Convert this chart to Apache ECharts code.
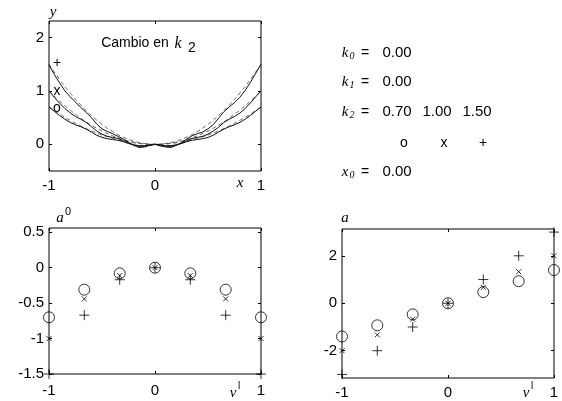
<!DOCTYPE html>
<html>
<head>
<meta charset="utf-8">
<script src="https://cdn.jsdelivr.net/npm/echarts@6/dist/echarts.min.js"></script>
<style>
  html, body { margin: 0; background: #fff; }
  #chart { width: 562px; height: 401px; }
</style>
</head>
<body>
<div id="chart"></div>
<script>
// top plot: approximated curves (solid) and exact curves (dashed)
const curveX = [-1, -0.95, -0.9, -0.85, -0.8, -0.75, -0.7, -0.65, -0.6, -0.55, -0.5, -0.45, -0.4, -0.35, -0.3, -0.25, -0.2, -0.15, -0.1, -0.05,
  0, 0.05, 0.1, 0.15, 0.2, 0.25, 0.3, 0.35, 0.4, 0.45, 0.5, 0.55, 0.6, 0.65, 0.7, 0.75, 0.8, 0.85, 0.9, 0.95, 1];
const approxK07 = [0.7, 0.62, 0.54, 0.47, 0.41, 0.365, 0.33, 0.285, 0.23, 0.17, 0.13, 0.105, 0.09, 0.075, 0.05, 0.015, -0.01, -0.025, -0.025, -0.01,
  0, -0.01, -0.025, -0.025, -0.01, 0.015, 0.05, 0.075, 0.09, 0.105, 0.13, 0.17, 0.23, 0.285, 0.33, 0.365, 0.41, 0.47, 0.54, 0.62, 0.7];
const approxK10 = [1.0, 0.88, 0.77, 0.67, 0.59, 0.52, 0.47, 0.41, 0.33, 0.25, 0.19, 0.15, 0.13, 0.11, 0.07, 0.02, -0.015, -0.04, -0.035, -0.02,
  0, -0.02, -0.035, -0.04, -0.015, 0.02, 0.07, 0.11, 0.13, 0.15, 0.19, 0.25, 0.32, 0.41, 0.47, 0.52, 0.585, 0.67, 0.775, 0.89, 1.0];
const approxK15 = [1.49, 1.31, 1.15, 1.0, 0.89, 0.79, 0.69, 0.6, 0.5, 0.38, 0.29, 0.24, 0.2, 0.15, 0.1, 0.04, -0.02, -0.06, -0.05, -0.02,
  0, -0.03, -0.05, -0.06, -0.02, 0.03, 0.1, 0.16, 0.2, 0.23, 0.29, 0.37, 0.49, 0.61, 0.7, 0.78, 0.88, 1.01, 1.16, 1.33, 1.5];

const exactX = [-1, -0.9, -0.8, -0.7, -0.6, -0.5, -0.4, -0.3, -0.2, -0.1, 0, 0.1, 0.2, 0.3, 0.4, 0.5, 0.6, 0.7, 0.8, 0.9, 1];
const exactK07 = [0.7, 0.567, 0.448, 0.343, 0.252, 0.175, 0.112, 0.063, 0.028, 0.007, 0, 0.007, 0.028, 0.063, 0.112, 0.175, 0.252, 0.343, 0.448, 0.567, 0.7];
const exactK10 = [1, 0.81, 0.64, 0.49, 0.36, 0.25, 0.16, 0.09, 0.04, 0.01, 0, 0.01, 0.04, 0.09, 0.16, 0.25, 0.36, 0.49, 0.64, 0.81, 1];
const exactK15 = [1.5, 1.215, 0.96, 0.735, 0.54, 0.375, 0.24, 0.135, 0.06, 0.015, 0, 0.015, 0.06, 0.135, 0.24, 0.375, 0.54, 0.735, 0.96, 1.215, 1.5];

// bottom plots: rule centres and coefficients
const centres = [-1, -0.667, -0.333, 0, 0.333, 0.667, 1];
const a0K07 = [-0.7, -0.31, -0.08, 0, -0.08, -0.31, -0.7];
const a0K10 = [-1, -0.44, -0.11, 0, -0.11, -0.44, -1];
const a0K15 = [-1.5, -0.67, -0.17, 0, -0.17, -0.67, -1.5];
const aK07 = [-1.4, -0.93, -0.47, 0, 0.47, 0.93, 1.4];
const aK10 = [-2, -1.33, -0.67, 0, 0.67, 1.33, 2];
const aK15 = [-3, -2, -1, 0, 1, 2, 3];

const xTicks = [-1, 0, 1];
const yTicksTop = [0, 1, 2];
const yTicksA0 = [-1.5, -1, -0.5, 0, 0.5];
const yTicksA = [-2, 0, 2];

const SANS = '"Liberation Sans", Arial, sans-serif';
const SERIF = '"Liberation Serif", "Times New Roman", serif';

const zip = (xs, ys) => xs.map((x, i) => [x, ys[i]]);

function axisPair(grid, min, max, ticks, dim, labelMargin) {
  const main = {
    type: 'value', gridIndex: grid, min: min, max: max,
    position: dim === 'x' ? 'bottom' : 'left',
    axisLine: { show: false, onZero: false },
    axisTick: { inside: true, length: 3, customValues: ticks, lineStyle: { color: '#000' } },
    axisLabel: { customValues: ticks, margin: labelMargin, fontSize: 15, color: '#000', fontFamily: SANS },
    splitLine: { show: false }
  };
  const opp = {
    type: 'value', gridIndex: grid, min: min, max: max,
    position: dim === 'x' ? 'top' : 'right',
    axisLine: { show: false, onZero: false },
    axisTick: { inside: true, length: 3, customValues: ticks, lineStyle: { color: '#000' } },
    axisLabel: { show: false },
    splitLine: { show: false }
  };
  return [main, opp];
}

const xAxes = [
  ...axisPair(0, -1, 1, xTicks, 'x', 7),
  ...axisPair(1, -1, 1, xTicks, 'x', 9),
  ...axisPair(2, -1, 1, xTicks, 'x', 7)
];
const yAxes = [
  ...axisPair(0, -0.5, 2.31, yTicksTop, 'y', 5),
  ...axisPair(1, -1.5, 0.56, yTicksA0, 'y', 5),
  ...axisPair(2, -3.15, 3.13, yTicksA, 'y', 5)
];

function solid(ys) {
  return { type: 'line', xAxisIndex: 0, yAxisIndex: 0, data: zip(curveX, ys), showSymbol: false,
    lineStyle: { color: '#111', width: 1 }, silent: true, animation: false };
}
function dashed(ys) {
  return { type: 'line', xAxisIndex: 0, yAxisIndex: 0, data: zip(exactX, ys), showSymbol: false, smooth: true,
    lineStyle: { color: '#444', width: 0.8, type: [4, 3] }, silent: true, animation: false };
}

const CIRCLE = { symbol: 'circle', symbolSize: 11 };
const CROSS = { symbol: 'path://M0,0L10,10M10,0L0,10', symbolSize: 5 };
const PLUS = { symbol: 'path://M5,0L5,10M0,5L10,5', symbolSize: 10 };

function dots(axis, ys, mark) {
  return { type: 'scatter', xAxisIndex: axis, yAxisIndex: axis, data: zip(centres, ys),
    symbol: mark.symbol, symbolSize: mark.symbolSize, clip: false, animation: false, silent: true,
    itemStyle: { color: 'none', borderColor: '#000', borderWidth: 1 } };
}

function txt(x, y, text, font, align) {
  return { type: 'text', x: x, y: y, silent: true,
    style: { text: text, font: font, fill: '#000', align: align || 'center', verticalAlign: 'middle' } };
}

const labels = [
  // top plot
  txt(53, 12, 'y', 'italic 15px ' + SERIF),
  txt(240, 183, 'x', 'italic 15px ' + SERIF),
  txt(135, 43, 'Cambio en', '14px ' + SANS),
  txt(178, 44, 'k', 'italic 16px ' + SERIF),
  txt(192, 48, '2', '14px ' + SANS),
  txt(57, 63, '+', '14px ' + SANS),
  txt(57, 91, 'x', '14px ' + SANS),
  txt(57, 108, 'o', '14px ' + SANS),
  // bottom-left
  txt(60, 218, 'a', 'italic 15px ' + SERIF),
  txt(68, 212, '0', '11px ' + SANS),
  txt(233, 393, 'v', 'italic 15px ' + SERIF),
  txt(239, 386, 'l', '10px ' + SANS),
  // bottom-right
  txt(345, 218, 'a', 'italic 15px ' + SERIF),
  txt(526, 393, 'v', 'italic 15px ' + SERIF),
  txt(532, 386, 'l', '10px ' + SANS)
];

// parameter block on the right
const paramRows = [
  { y: 53, name: 'k', sub: '0', vals: ['0.00'] },
  { y: 82, name: 'k', sub: '1', vals: ['0.00'] },
  { y: 112, name: 'k', sub: '2', vals: ['0.70', '1.00', '1.50'] },
  { y: 172, name: 'x', sub: '0', vals: ['0.00'] }
];
const valueCols = [397, 437, 477];
paramRows.forEach(r => {
  labels.push(txt(345, r.y, r.name, 'italic 15px ' + SERIF));
  labels.push(txt(352, r.y + 3, r.sub, 'italic 10px ' + SERIF));
  labels.push(txt(365, r.y, '=', '14px ' + SANS));
  r.vals.forEach((v, i) => labels.push(txt(valueCols[i], r.y, v, '15px ' + SANS)));
});
labels.push(txt(404, 143, 'o', '14px ' + SANS));
labels.push(txt(444, 143, 'x', '14px ' + SANS));
labels.push(txt(483, 143, '+', '14px ' + SANS));

const chart = echarts.init(document.getElementById('chart'));
chart.setOption({
  backgroundColor: '#fff',
  animation: false,
  grid: [
    { left: 49, top: 21, width: 212, height: 150, show: true, borderColor: '#000', borderWidth: 1 },
    { left: 49, top: 228, width: 212, height: 146, show: true, borderColor: '#000', borderWidth: 1 },
    { left: 342, top: 229, width: 212, height: 149, show: true, borderColor: '#000', borderWidth: 1 }
  ],
  xAxis: xAxes,
  yAxis: yAxes,
  series: [
    dashed(exactK07), dashed(exactK10), dashed(exactK15),
    solid(approxK07), solid(approxK10), solid(approxK15),
    dots(2, a0K07, CIRCLE), dots(2, a0K10, CROSS), dots(2, a0K15, PLUS),
    dots(4, aK07, CIRCLE), dots(4, aK10, CROSS), dots(4, aK15, PLUS)
  ],
  graphic: labels
});
</script>
</body>
</html>
